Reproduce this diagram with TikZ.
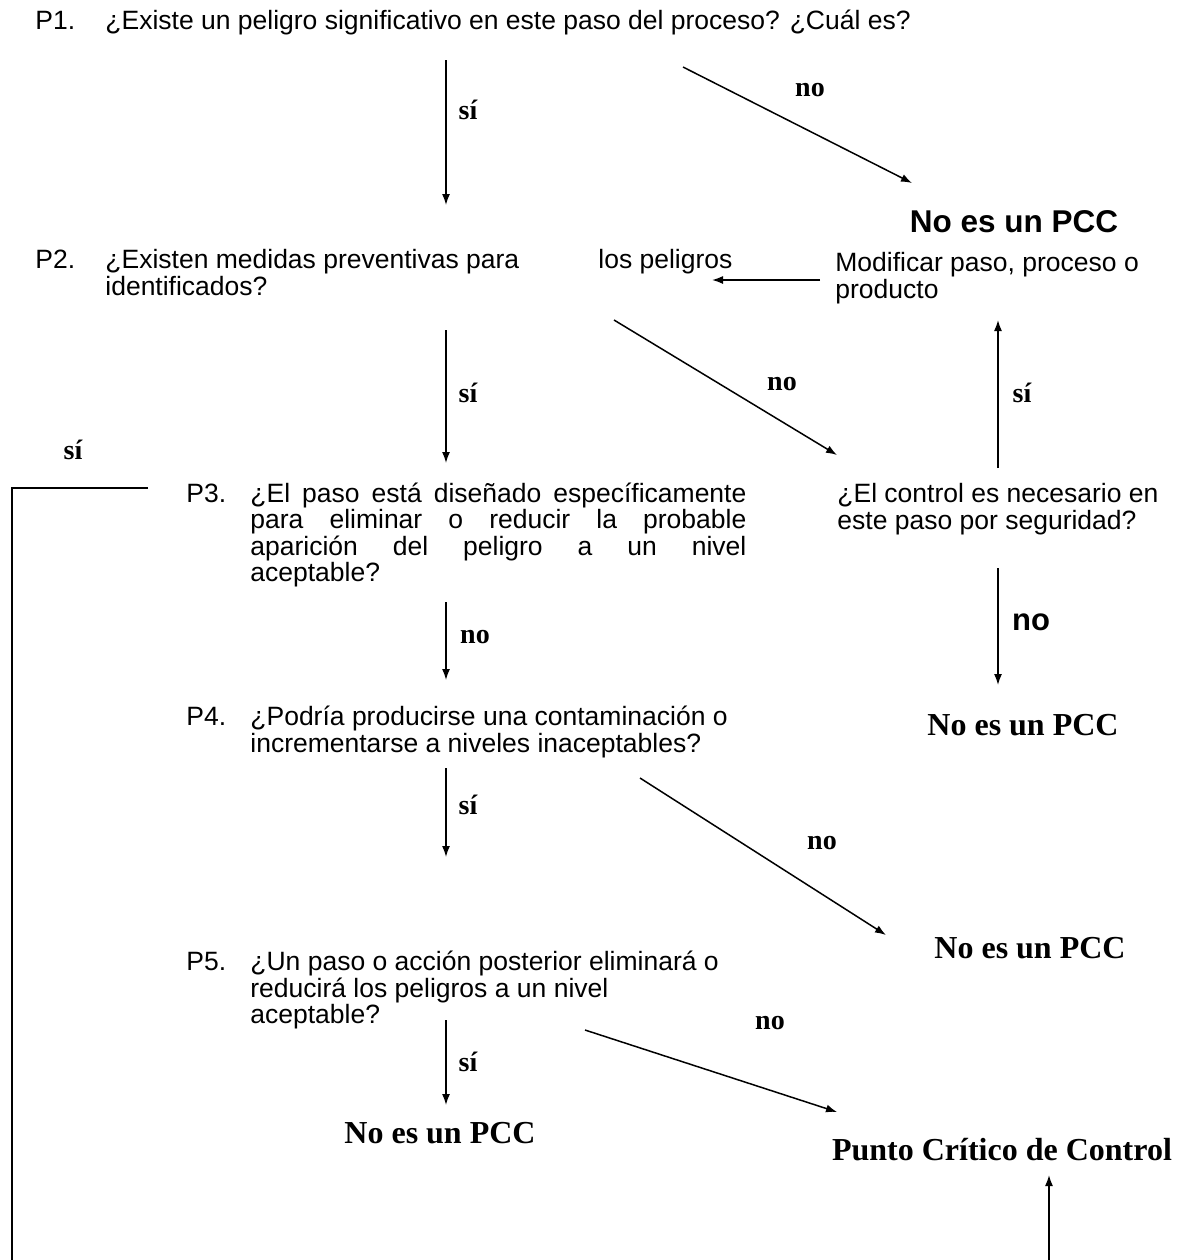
\documentclass[tikz,border=0pt]{standalone}
\usepackage{fontspec}
\setmainfont{Liberation Serif}
\newfontfamily\arialfont{Liberation Sans}
\usetikzlibrary{arrows.meta}
\begin{document}
\begin{tikzpicture}[x=0.5pt,y=-0.5pt,
  question/.style={anchor=north west, inner sep=0pt,
    font=\arialfont\fontsize{13.25}{13.25}\selectfont,
    execute at begin node={\lineskiplimit=-\maxdimen\hyphenpenalty=10000\exhyphenpenalty=10000\rule{0pt}{10.5pt}}},
  answer/.style={inner sep=0pt, font=\bfseries\fontsize{14}{16}\selectfont},
  outcome/.style={inner sep=0pt, font=\bfseries\fontsize{16}{18}\selectfont},
  flow/.style={line width=0.75pt, -{Latex[length=5.5pt,width=4pt]}},
  loopline/.style={line width=1pt}]
\useasboundingbox (0,0) rectangle (1189,1260);

% questions
\node[question] (p1n) at (35,8) {P1.};
\node[question] (p1) at (105,8) {¿Existe un peligro significativo en este paso del proceso? ¿Cuál es?};
\node[question] (p2n) at (35,247) {P2.};
\node[question, align=left] (p2) at (105,249) {¿Existen medidas preventivas para\\identificados?};
\node[question] (p2b) at (598,247) {los peligros};
\node[question, align=left] (mod) at (835,252) {Modificar paso, proceso o\\producto};
\node[question] (p3n) at (186,481) {P3.};
\node[question, text width=248pt, align=justify] (p3) at (250,481)
  {¿El paso está diseñado específicamente para eliminar o reducir la probable\linebreak aparición del peligro a un nivel\linebreak aceptable?};
\node[question, align=left] (ctl) at (837,483) {¿El control es necesario en\\este paso por seguridad?};
\node[question] (p4n) at (186,704) {P4.};
\node[question, align=left] (p4) at (250,706) {¿Podría producirse una contaminación o\\incrementarse a niveles inaceptables?};
\node[question] (p5n) at (186,949) {P5.};
\node[question, align=left] (p5) at (250,951) {¿Un paso o acción posterior eliminará o\\reducirá los peligros a un nivel\\aceptable?};

% outcomes
\node[outcome, font=\arialfont\bfseries\fontsize{15.75}{18}\selectfont] (n1) at (1014,222) {No es un PCC};
\node[outcome] (n2) at (1023,725) {No es un PCC};
\node[outcome] (n3) at (1030,948) {No es un PCC};
\node[outcome] (n4) at (440,1133) {No es un PCC};
\node[outcome] (pcc) at (1002,1150) {Punto Crítico de Control};

% answers
\node[answer] (l1) at (468,110) {sí};
\node[answer] (l2) at (810,90) {no};
\node[answer] (l3) at (468,393) {sí};
\node[answer] (l4) at (782,384) {no};
\node[answer] (l5) at (1022,393) {sí};
\node[answer] (l6) at (73,450) {sí};
\node[answer] (l7) at (475,637) {no};
\node[answer, font=\arialfont\bfseries\fontsize{15.5}{18}\selectfont] (l8) at (1031,622) {no};
\node[answer] (l9) at (468,805) {sí};
\node[answer] (l10) at (822,843) {no};
\node[answer] (l11) at (468,1062) {sí};
\node[answer] (l12) at (770,1023) {no};

% connector ends
\coordinate (a1s) at (446,60);   \coordinate (a1e) at (446,205);
\coordinate (b1s) at (683,67);   \coordinate (b1e) at (912,183);
\coordinate (hs) at (820,280);   \coordinate (he) at (712,280);
\coordinate (a2s) at (446,330);  \coordinate (a2e) at (446,463);
\coordinate (b2s) at (614,320);  \coordinate (b2e) at (837,455);
\coordinate (us) at (998,468);   \coordinate (ue) at (998,320);
\coordinate (a3s) at (446,602);  \coordinate (a3e) at (446,680);
\coordinate (ds) at (998,568);   \coordinate (de) at (998,685);
\coordinate (a4s) at (446,768);  \coordinate (a4e) at (446,857);
\coordinate (b4s) at (640,778);  \coordinate (b4e) at (886,935);
\coordinate (a5s) at (446,1020); \coordinate (a5e) at (446,1105);
\coordinate (b5s) at (585,1030); \coordinate (b5e) at (837,1112);
\coordinate (ls) at (148,488);   \coordinate (lc) at (12,488);
\coordinate (lb) at (12,1260);
\coordinate (rs) at (1049,1260); \coordinate (re) at (1049,1175);

% connectors
\draw[flow] (a1s) -- (a1e);
\draw[flow] (b1s) -- (b1e);
\draw[flow] (hs) -- (he);
\draw[flow] (a2s) -- (a2e);
\draw[flow] (b2s) -- (b2e);
\draw[flow] (us) -- (ue);
\draw[flow] (a3s) -- (a3e);
\draw[flow] (ds) -- (de);
\draw[flow] (a4s) -- (a4e);
\draw[flow] (b4s) -- (b4e);
\draw[flow] (a5s) -- (a5e);
\draw[flow] (b5s) -- (b5e);
\draw[loopline] (ls) -- (lc) -- (lb);
\draw[flow] (rs) -- (re);
\end{tikzpicture}
\end{document}
